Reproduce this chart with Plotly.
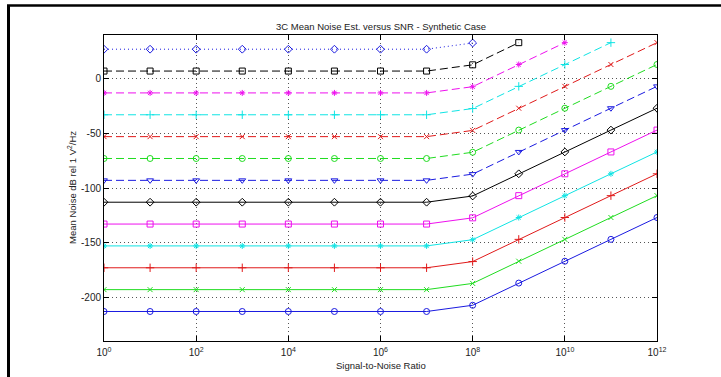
import plotly.graph_objects as go

# ---- data ----
snr = [1e0, 1e1, 1e2, 1e3, 1e4, 1e5, 1e6, 1e7, 1e8, 1e9, 1e10, 1e11, 1e12]

s01_blue_diamond = [27, 27, 27, 27, 27, 27, 27, 27, 32.7, None, None, None, None]
s02_black_square = [7, 7, 7, 7, 7, 7, 7, 7, 12.7, 33, None, None, None]
s03_magenta_star = [-13, -13, -13, -13, -13, -13, -13, -13, -7.3, 13, 33, None, None]
s04_cyan_plus = [-33, -33, -33, -33, -33, -33, -33, -33, -27.3, -7, 13, 33, None]
s05_red_x = [-53, -53, -53, -53, -53, -53, -53, -53, -47.3, -27, -7, 13, 33]
s06_green_circle = [-73, -73, -73, -73, -73, -73, -73, -73, -67.3, -47, -27, -7, 13]
s07_blue_tri = [-93, -93, -93, -93, -93, -93, -93, -93, -87.3, -67, -47, -27, -7]
s08_black_diamond = [-113, -113, -113, -113, -113, -113, -113, -113, -107.3, -87, -67, -47, -27]
s09_magenta_square = [-133, -133, -133, -133, -133, -133, -133, -133, -127.3, -107, -87, -67, -47]
s10_cyan_star = [-153, -153, -153, -153, -153, -153, -153, -153, -147.3, -127, -107, -87, -67]
s11_red_plus = [-173, -173, -173, -173, -173, -173, -173, -173, -167.3, -147, -127, -107, -87]
s12_green_x = [-193, -193, -193, -193, -193, -193, -193, -193, -187.3, -167, -147, -127, -107]
s13_blue_circle = [-213, -213, -213, -213, -213, -213, -213, -213, -207.3, -187, -167, -147, -127]

x_tick_vals = [1e0, 1e2, 1e4, 1e6, 1e8, 1e10, 1e12]
x_tick_text = ["10<sup>0</sup>", "10<sup>2</sup>", "10<sup>4</sup>", "10<sup>6</sup>",
               "10<sup>8</sup>", "10<sup>10</sup>", "10<sup>12</sup>"]
y_tick_vals = [-200, -150, -100, -50, 0]
y_tick_text = ["-200", "-150", "-100", "-50", "0"]

# ---- styles ----
B, K, M, C, R, G = "#1a1ae0", "#000000", "#ee10ee", "#10e4e4", "#e01a1a", "#20dc20"
DASH = "8px,4px"
DOT = "1px,3px"

series = [
    (s01_blue_diamond, B, "diamond-open", DOT, 6),
    (s02_black_square, K, "square-open", DASH, 6),
    (s03_magenta_star, M, "asterisk-open", DASH, 5),
    (s04_cyan_plus, C, "cross-thin-open", DASH, 6),
    (s05_red_x, R, "x-thin-open", DASH, 5),
    (s06_green_circle, G, "circle-open", DASH, 6),
    (s07_blue_tri, B, "triangle-down-open", DASH, 6),
    (s08_black_diamond, K, "diamond-open", "solid", 6),
    (s09_magenta_square, M, "square-open", "solid", 6),
    (s10_cyan_star, C, "asterisk-open", "solid", 5),
    (s11_red_plus, R, "cross-thin-open", "solid", 6),
    (s12_green_x, G, "x-thin-open", "solid", 5),
    (s13_blue_circle, B, "circle-open", "solid", 6),
]

FONT = "Liberation Sans Narrow, Liberation Sans, Arial, sans-serif"

fig = go.Figure()
for vals, col, sym, dash, msize in series:
    fig.add_trace(go.Scatter(
        x=snr, y=vals, mode="lines+markers",
        line=dict(color=col, width=1, dash=dash),
        marker=dict(symbol=sym, size=msize, color=col, line=dict(color=col, width=1)),
        showlegend=False, connectgaps=False,
    ))

L, Rm, T, Bm = 104, 64, 35, 36
W, H = 721, 377
pw, ph = W - L - Rm, H - T - Bm


def px(xp):
    return (xp - L) / pw


def py(yp):
    return (H - Bm - yp) / ph


fig.update_layout(
    width=W, height=H,
    margin=dict(l=L, r=Rm, t=T, b=Bm, pad=0),
    paper_bgcolor="white", plot_bgcolor="white",
    font=dict(family=FONT, size=10, color="#222"),
    showlegend=False,
    xaxis=dict(
        type="log", range=[0, 12],
        tickvals=x_tick_vals, ticktext=x_tick_text,
        ticks="inside", ticklen=5, tickcolor="#000", tickwidth=1,
        showline=True, linecolor="#000", linewidth=1, mirror="ticks",
        showgrid=True, gridcolor="#555", griddash=DOT, gridwidth=1,
        zeroline=False, tickfont=dict(size=10, family=FONT, color="#222"),
        ticklabelstandoff=2,
    ),
    yaxis=dict(
        range=[-240, 40],
        tickvals=y_tick_vals, ticktext=y_tick_text,
        ticks="inside", ticklen=5, tickcolor="#000", tickwidth=1,
        showline=True, linecolor="#000", linewidth=1, mirror="ticks",
        showgrid=True, gridcolor="#555", griddash=DOT, gridwidth=1,
        zeroline=False, tickfont=dict(size=10, family=FONT, color="#222"),
    ),
    annotations=[
        dict(text="3C Mean Noise Est. versus SNR - Synthetic Case", xref="paper", yref="paper",
             x=0.5, y=py(26), xanchor="center", yanchor="middle", showarrow=False,
             font=dict(size=9.5, family=FONT, color="#222")),
        dict(text="Signal-to-Noise Ratio", xref="paper", yref="paper",
             x=0.5, y=py(365), xanchor="center", yanchor="middle", showarrow=False,
             font=dict(size=9.5, family=FONT, color="#222")),
        dict(text="Mean Noise dB rel 1 V<sup>2</sup>/Hz", xref="paper", yref="paper",
             x=px(72), y=0.5, xanchor="center", yanchor="middle", showarrow=False,
             textangle=-90, font=dict(size=9.5, family=FONT, color="#222")),
    ],
    shapes=[
        dict(type="line", xref="paper", yref="paper", x0=px(8.5), x1=px(8.5),
             y0=py(5), y1=py(H + 2), line=dict(color="#000", width=3)),
        dict(type="line", xref="paper", yref="paper", x0=px(7), x1=px(W + 2),
             y0=py(5.5), y1=py(5.5), line=dict(color="#000", width=2.5)),
    ],
)

fig.write_html(
    "out.html",
    config={"displayModeBar": False},
    post_script="document.body.style.margin='0';document.body.style.overflow='hidden';",
)
